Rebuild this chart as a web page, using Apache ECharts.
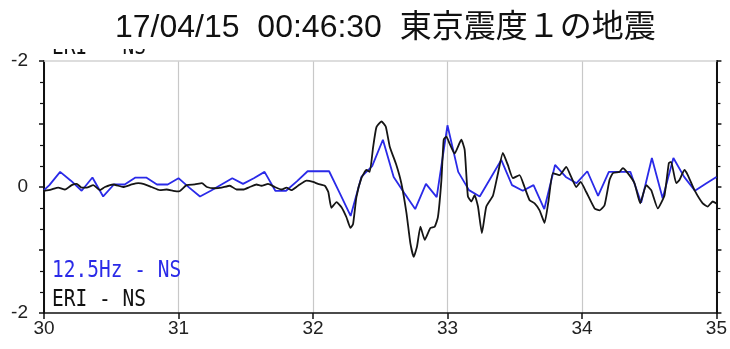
<!DOCTYPE html>
<html>
<head>
<meta charset="utf-8">
<script src="https://cdn.jsdelivr.net/npm/echarts@6/dist/echarts.min.js"></script>
<style>
  html, body { margin: 0; padding: 0; background: #fff; }
  #chart { width: 730px; height: 349px; }
</style>
</head>
<body>
<div id="chart"></div>
<script>
// Waveform comparison, NS component, 30 s – 35 s after origin
const titleText = '17/04/15  00:46:30  東京震度１の地震';
const xTicks = [30, 31, 32, 33, 34, 35];
const yTickText = { '-2': '-2', '0': '0', '2': '-2' };
const legendBlue = '12.5Hz - NS';
const legendBlack = 'ERI - NS';

// 12.5 Hz resampled record: first sample, then regular 0.08 s samples from 30.04 s
const blueStart = 30.04;
const blueStep = 0.08;
const blueFirst = [30.0, -0.05];
const blueValues = [
  0.03, 0.24, 0.10, -0.06, 0.15, -0.15, 0.04, 0.04, 0.15, 0.15,
  0.04, 0.04, 0.14, -0.01, -0.15, -0.06, 0.04, 0.14, 0.05, 0.14,
  0.24, -0.06, -0.06, 0.09, 0.25, 0.25, 0.25, -0.10, -0.46, 0.16,
  0.33, 0.75, 0.16, -0.10, -0.35, 0.05, -0.16, 0.98, 0.24, -0.05,
  -0.15, 0.14, 0.43, 0.03, -0.06, 0.03, -0.35, 0.35, 0.16, 0.06,
  0.25, -0.14, 0.24, 0.24, 0.24, -0.25, 0.46, -0.18, 0.46, 0.16,
  -0.06, 0.05, 0.16
];

// ERI reference record (times in s, values)
const eriTimes = [
  30.000, 30.052, 30.106, 30.156, 30.206, 30.243, 30.280, 30.317, 30.366, 30.416,
  30.453, 30.515, 30.589, 30.652, 30.701, 30.738, 30.800, 30.862, 30.912, 30.961,
  31.003, 31.060, 31.122, 31.174, 31.211, 31.270, 31.320, 31.382, 31.432, 31.481,
  31.530, 31.580, 31.617, 31.666, 31.716, 31.766, 31.803, 31.840, 31.889, 31.952,
  32.001, 32.038, 32.088, 32.114, 32.137, 32.175, 32.212, 32.249, 32.279, 32.298,
  32.323, 32.360, 32.397, 32.422, 32.447, 32.472, 32.509, 32.541, 32.571, 32.620,
  32.657, 32.695, 32.724, 32.749, 32.773, 32.799, 32.831, 32.873, 32.905, 32.929,
  32.955, 32.972, 32.992, 33.016, 33.053, 33.103, 33.128, 33.152, 33.178, 33.202,
  33.227, 33.256, 33.289, 33.338, 33.373, 33.412, 33.449, 33.487, 33.536, 33.573,
  33.611, 33.648, 33.685, 33.722, 33.752, 33.784, 33.834, 33.883, 33.920, 33.958,
  33.990, 34.032, 34.094, 34.131, 34.168, 34.205, 34.230, 34.279, 34.304, 34.341,
  34.391, 34.433, 34.478, 34.515, 34.564, 34.614, 34.646, 34.663, 34.701, 34.725,
  34.762, 34.787, 34.837, 34.898, 34.935, 34.972, 35.000
];
const eriValues = [
  -0.06, -0.04, -0.01, -0.04, 0.03, 0.05, -0.01, -0.01, 0.03, -0.05,
  0.00, 0.04, 0.00, 0.04, 0.06, 0.05, 0.00, -0.05, -0.04, -0.06,
  -0.07, 0.03, 0.04, 0.06, 0.00, -0.02, -0.01, 0.02, -0.04, -0.04,
  0.00, 0.04, 0.02, 0.05, 0.00, -0.04, -0.01, -0.05, 0.02, 0.10,
  0.08, 0.05, 0.02, -0.08, -0.33, -0.24, -0.32, -0.48, -0.65, -0.59,
  -0.16, 0.14, 0.27, 0.24, 0.63, 0.95, 1.04, 0.96, 0.64, 0.35,
  0.06, -0.41, -0.89, -1.11, -0.95, -0.63, -0.84, -0.65, -0.63, -0.48,
  0.11, 0.75, 0.80, 0.69, 0.53, 0.75, 0.59, -0.15, -0.23, -0.13,
  -0.31, -0.73, -0.31, -0.14, 0.19, 0.54, 0.35, 0.14, 0.19, 0.00,
  -0.21, -0.26, -0.37, -0.57, -0.21, 0.22, 0.19, 0.32, 0.16, 0.00,
  0.08, -0.08, -0.34, -0.37, -0.29, 0.11, 0.22, 0.24, 0.30, 0.22,
  0.06, -0.26, 0.03, -0.05, -0.34, -0.13, 0.38, 0.40, 0.06, 0.11,
  0.27, 0.19, -0.05, -0.26, -0.31, -0.23, -0.26
];

const blueData = [blueFirst].concat(
  blueValues.map((v, i) => [+(blueStart + blueStep * i).toFixed(2), v])
);
const eriData = eriTimes.map((t, i) => [t, eriValues[i]]);

const chart = echarts.init(document.getElementById('chart'), null, { renderer: 'canvas' });

const monoFont = '"DejaVu Sans Mono", "Liberation Mono", monospace';
const sansFont = '"Liberation Sans", Arial, sans-serif';

const yAxisBase = {
  type: 'value', min: -2, max: 2, interval: 1,
  axisLine: { show: true, onZero: false, lineStyle: { color: '#111', width: 2 } },
  axisTick: { show: true, inside: false, length: 5, lineStyle: { color: '#111', width: 1.5 } },
  minorTick: { show: true, splitNumber: 3, length: 4, lineStyle: { color: '#111', width: 1.2 } },
  splitLine: { show: false }
};

chart.setOption({
  animation: false,
  backgroundColor: '#fff',
  title: {
    text: titleText,
    left: 110,
    top: 7,
    z: 8,
    textStyle: {
      fontFamily: '"Liberation Sans", "Noto Sans CJK JP", sans-serif',
      fontWeight: 'normal', fontSize: 32, color: '#111'
    }
  },
  grid: { left: 44, right: 13, top: 61, bottom: 36 },
  xAxis: [
    {
      type: 'value', min: xTicks[0], max: xTicks[xTicks.length - 1], interval: 1,
      axisLine: { show: true, onZero: false, lineStyle: { color: '#111', width: 1.5 } },
      axisTick: { show: true, length: 6, lineStyle: { color: '#111', width: 1.5 } },
      axisLabel: {
        margin: 6, fontSize: 19, color: '#222', fontFamily: sansFont,
        formatter: v => String(v)
      },
      splitLine: { show: true, lineStyle: { color: '#c8c8c8', width: 1.2 } }
    },
    {
      type: 'value', position: 'top', min: xTicks[0], max: xTicks[xTicks.length - 1],
      axisLine: { show: true, onZero: false, lineStyle: { color: '#d2d2d2', width: 1.5 } },
      axisTick: { show: false }, axisLabel: { show: false }, splitLine: { show: false }
    }
  ],
  yAxis: [
    Object.assign({}, yAxisBase, {
      position: 'left',
      axisLabel: {
        margin: 16, fontSize: 19, color: '#222', fontFamily: sansFont,
        formatter: v => (yTickText[String(v)] !== undefined ? yTickText[String(v)] : '')
      }
    }),
    Object.assign({}, yAxisBase, {
      position: 'right',
      axisLabel: { show: false }
    })
  ],
  series: [
    {
      name: legendBlue, type: 'line', data: blueData,
      showSymbol: false, symbol: 'none',
      lineStyle: { color: '#2a2ae8', width: 1.8 }, z: 3
    },
    {
      name: legendBlack, type: 'line', data: eriData,
      showSymbol: false, symbol: 'none', smooth: 0.15,
      lineStyle: { color: '#151515', width: 1.8 }, z: 4
    }
  ],
  graphic: [
    // upper label row, mostly hidden under the title band
    {
      type: 'text', left: 52, top: 36, scaleY: 1.2, z: 1,
      style: { text: legendBlack, fill: '#111', fontSize: 19.5, fontFamily: monoFont }
    },
    {
      type: 'rect', left: 40, top: 0, z: 2,
      shape: { width: 130, height: 49 },
      style: { fill: '#fff' }
    },
    {
      type: 'text', left: 52, top: 259, scaleY: 1.2, z: 10,
      style: { text: legendBlue, fill: '#2a2ae8', fontSize: 19.5, fontFamily: monoFont }
    },
    {
      type: 'text', left: 52, top: 288, scaleY: 1.2, z: 10,
      style: { text: legendBlack, fill: '#111', fontSize: 19.5, fontFamily: monoFont }
    }
  ]
});
</script>
</body>
</html>
